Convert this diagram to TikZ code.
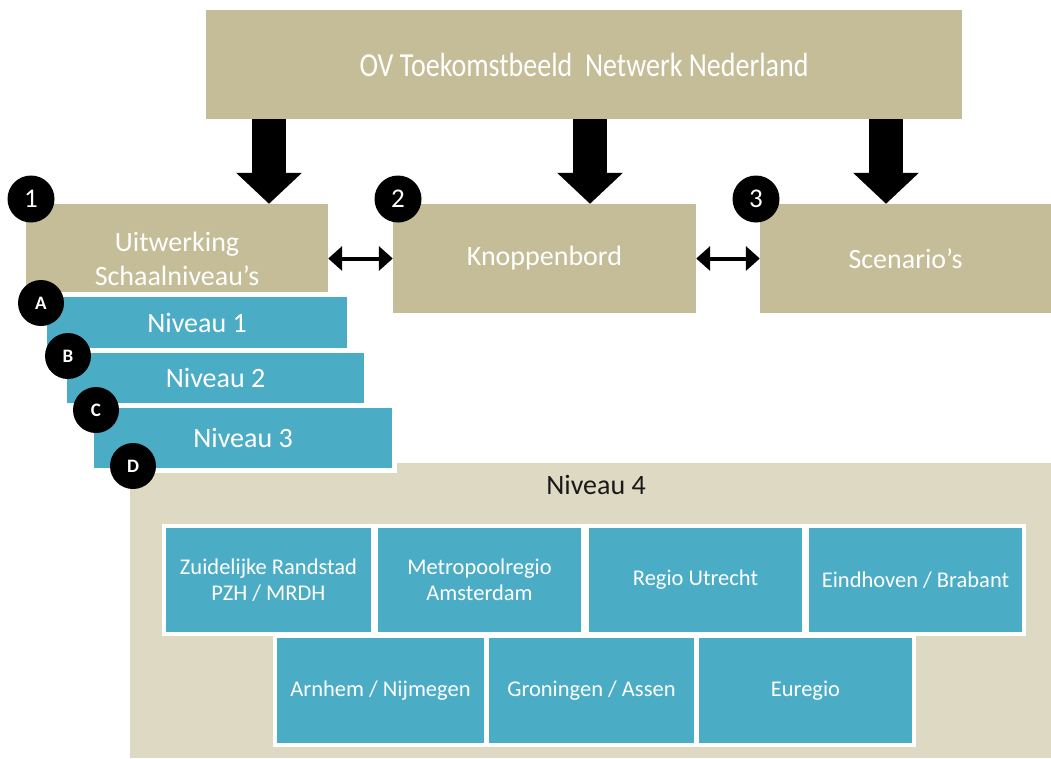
\documentclass[tikz,border=0pt]{standalone}
\usepackage{fontspec}
\setmainfont{Carlito}
\usetikzlibrary{arrows.meta}

\definecolor{tanbox}{HTML}{C4BD97}
\definecolor{tanlight}{HTML}{DDD9C3}
\definecolor{regioblue}{HTML}{4BACC6}

\begin{document}
\begin{tikzpicture}[x=1pt, y=-1pt,
      topbox/.style={rectangle, fill=tanbox, text=white, minimum width=756pt, minimum height=109pt, inner sep=0pt, font=\fontsize{28}{34}\selectfont},
      block/.style={rectangle, fill=tanbox, text=white, minimum width=#1, minimum height=109pt, inner sep=0pt, align=center, font=\fontsize{28}{34}\selectfont},
      niveau/.style={rectangle, fill=regioblue, draw=white, line width=5pt, text=white, inner sep=0pt, font=\fontsize{28}{34}\selectfont},
      regio/.style={rectangle, fill=regioblue, draw=white, line width=4pt, text=white, inner sep=0pt, align=center, minimum width=#1, font=\fontsize{22.5}{26}\selectfont},
      num/.style={circle, fill=black, text=white, minimum size=47pt, inner sep=0pt, font=\fontsize{27}{30}\selectfont},
      letter/.style={circle, fill=black, text=white, minimum size=46pt, inner sep=0pt, font=\bfseries\fontsize{19}{21}\selectfont},
      bigarrow/.style={line width=34pt, -{Triangle[length=31pt, width=64pt]}},
      dblarrow/.style={line width=4pt, {Triangle[length=14pt, width=24pt]}-{Triangle[length=14pt, width=24pt]}}]

      \path[use as bounding box, fill=white] (0,0) rectangle (1051,758);

      % Niveau 4 background
      \node[rectangle, fill=tanlight, minimum width=921pt, minimum height=295pt, inner sep=0pt] (bg4) at (590.5,610.5) {};
      \node[text=black!90, font=\fontsize{28}{34}\selectfont] (lbl4) at (596,485) {Niveau 4};

      % Blocks
      \node[topbox] (top) at (584,64.5) {\scalebox{1}[1.2]{OV Toekomstbeeld\ \ Netwerk Nederland}};
      \node[block=302pt] (uitw) at (177,258.5) {Uitwerking\\Schaalniveau’s};
      \node[block=303pt] (knop) at (544.5,258.5) {Knoppenbord};
      \node[block=291pt] (scen) at (905.5,258.5) {Scenario’s};

      % Niveaus 1-3
      \node[niveau, minimum width=305pt, minimum height=56pt] (niv1) at (197,322.5) {Niveau 1};
      \node[niveau, minimum width=302pt, minimum height=55pt] (niv2) at (215.5,378) {Niveau 2};
      \node[niveau, minimum width=303pt, minimum height=65pt] (niv3) at (243,438) {Niveau 3};

      % Regio's
      \node[regio=209pt, minimum height=108pt] (zuid) at (268.5,580) {Zuidelijke Randstad\\PZH / MRDH};
      \node[regio=207pt, minimum height=108pt] (metro) at (479.5,580) {Metropoolregio\\Amsterdam};
      \node[regio=217pt, minimum height=108pt] (utr) at (695.5,580) {Regio Utrecht};
      \node[regio=217pt, minimum height=108pt] (eind) at (915.5,580) {Eindhoven / Brabant};
      \node[regio=211pt, minimum height=109pt] (arnh) at (380.5,690.5) {Arnhem / Nijmegen};
      \node[regio=209pt, minimum height=109pt] (gron) at (591.5,690.5) {Groningen / Assen};
      \node[regio=217pt, minimum height=109pt] (eureg) at (805.5,690.5) {Euregio};

      % Arrows down
      \foreach \x/\b in {269/uitw, 590/knop, 886/scen} {
        \coordinate (ax) at (\x,0);
        \draw[bigarrow] (top.south -| ax) -- (\b.north -| ax);
      }

      % Arrows between blocks
      \draw[dblarrow] (uitw.east) -- (knop.west);
      \draw[dblarrow] (knop.east) -- (scen.west);

      % Numbers and letters
      \foreach \nm/\x/\t in {c1/31/1, c2/398/2, c3/756/3}
        \node[num] (\nm) at (\x,199) {\t};
      \foreach \nm/\x/\y/\t in {ca/41/303/A, cb/68/356/B, cc/96/410/C, cd/133/466/D}
        \node[letter] (\nm) at (\x,\y) {\t};
    \end{tikzpicture}
\end{document}
